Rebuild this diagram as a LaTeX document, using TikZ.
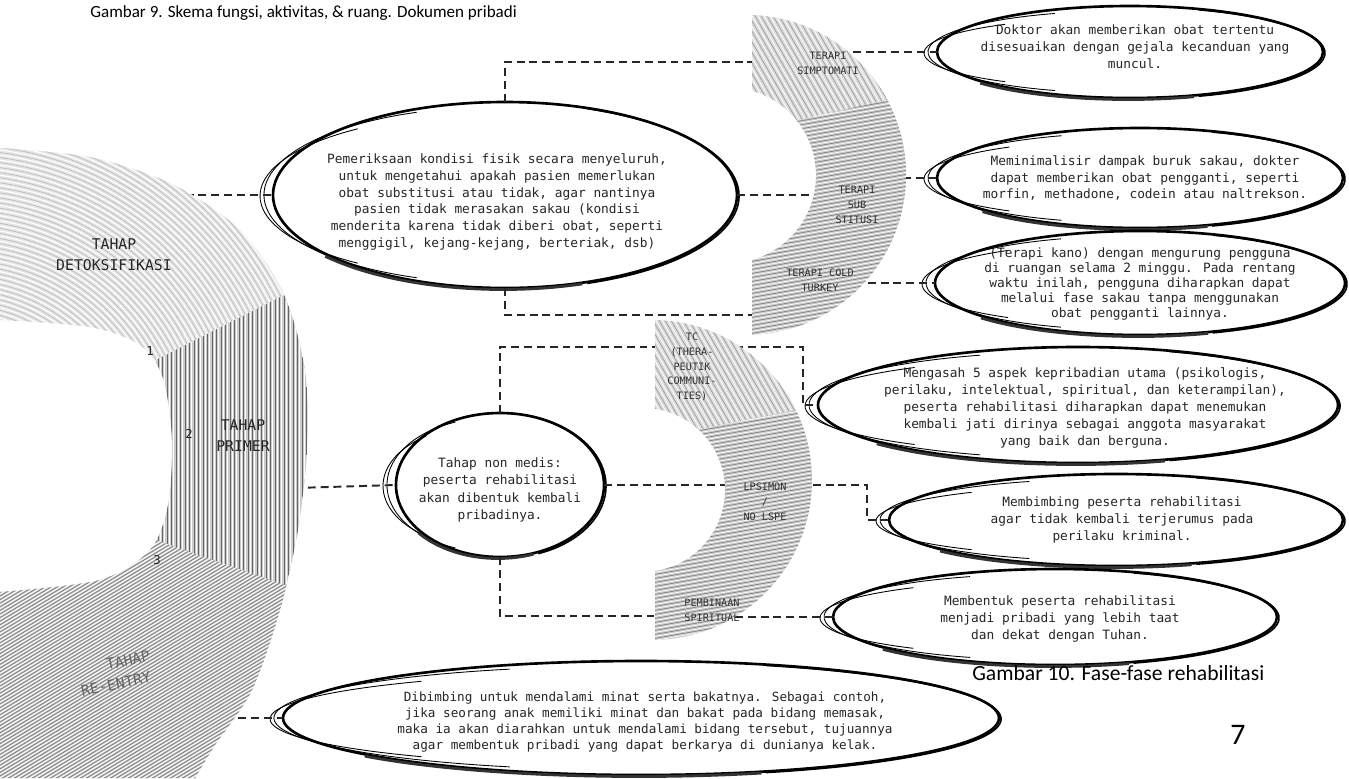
\documentclass[tikz,border=0pt]{standalone}
\usepackage{fontspec}
\setmainfont{Carlito}
\newfontfamily\skf{DejaVu Sans Mono}
\usetikzlibrary{calc,shapes.geometric}

\tikzset{
  conn/.style={draw=black!85, line width=1.1pt, dash pattern=on 4.5pt off 2.8pt},
  ebox/.style={ellipse, draw=none, inner sep=0pt},
  etext/.style={font=\skf\fontsize{7.3}{9.6}\selectfont, align=center, text=black!85},
  blabel/.style={font=\skf\fontsize{5.8}{8.4}\selectfont, align=center, text=black!80},
  rlabel/.style={font=\skf\fontsize{8.4}{12}\selectfont, align=center, text=black!85},
  capt/.style={font=\fontsize{9.7}{11}\selectfont, anchor=west, inner sep=0pt},
}

\newcommand\ellnode[5]{%
  \node[ebox, minimum width={0.04cm*#4}, minimum height={0.04cm*#5}] (#1) at (#2,#3) {};
  \draw[line width=1.5pt] (#2,#3) ellipse [x radius=#4, y radius=#5];
  \draw[line width=0.9pt, shift={({#2+3},{#3+1})}] ({(#4-1)*cos(-70)},{#5*sin(-70)}) arc[start angle=-70, end angle=70, x radius={#4-1}, y radius=#5];
  \draw[line width=0.5pt, shift={({#2-9},{#3})}] ({#4*cos(110)},{(#5-5)*sin(110)}) arc[start angle=110, end angle=250, x radius=#4, y radius={#5-5}];
  \draw[line width=0.5pt, shift={({#2-16},{#3+1})}] ({(#4-3)*cos(125)},{(#5-11)*sin(125)}) arc[start angle=125, end angle=235, x radius={#4-3}, y radius={#5-11}];
  \draw[line width=1.6pt, black!80, shift={({#2-2},{#3+1.5})}] ({#4*cos(70)},{#5*sin(70)}) arc[start angle=70, end angle=140, x radius=#4, y radius=#5];
}

\newcommand\diaghatch{%
  \fill[gray!28] (600,0) rectangle (1000,700);
  \foreach \k in {-400,-394,...,1000} {%
    \draw[black!45, line width=0.3pt] (\k,0) -- ++(400,700);
    \draw[white, line width=0.45pt] ({\k+3},0) -- ++(400,700);}
}
\newcommand\horhatch{%
  \fill[gray!42] (600,0) rectangle (1000,700);
  \foreach \y in {0,4,...,800} {%
    \draw[black!55, line width=0.3pt] (600,\y) -- (1000,{\y-70});
    \draw[white, line width=0.4pt] (600,{\y+2}) -- (1000,{\y-68});}
}

\def\ringpath{plot[smooth] coordinates {(0,148) (90,157) (170,183) (238,228) (283,292) (305,370) (307,450) (298,530) (280,610) (252,690) (215,745) (195,778)} -- (0,778) -- (0,592) -- plot[smooth] coordinates {(0,592) (100,580) (150,550) (168,505) (172,440) (163,378) (140,345) (90,327) (0,320)} -- cycle}
\def\ubandpath{(752,15) arc[start angle=-87.85, end angle=87.85, radius=160] -- (752,260) arc[start angle=74.2, end angle=-74.2, radius=88] -- cycle}
\def\lbandpath{(655,320) arc[start angle=-88.9, end angle=88.9, radius=160] -- (655,571) arc[start angle=81.6, end angle=-81.6, radius=82] -- cycle}

\begin{document}
\begin{tikzpicture}[x=0.02cm,y=-0.02cm]
\useasboundingbox (0,0) rectangle (1349,778);
\fill[white] (0,0) rectangle (1349,778);

% ---------- ellipses ----------
\ellnode{E0}{505}{195}{232}{93}
\ellnode{E1}{1130}{52}{193}{46}
\ellnode{E2}{1140}{178}{203}{50}
\ellnode{E3}{1140}{283}{205}{52}
\ellnode{E4}{1078}{405}{260}{58}
\ellnode{E5}{1116}{520}{227}{46}
\ellnode{E6}{1055}{617}{222}{48}
\ellnode{E7}{641}{718}{358}{57}
\ellnode{E8}{500}{485}{104}{72}

% ---------- connectors ----------
\coordinate (r1) at (160,195);
\coordinate (r2) at (295,488);
\coordinate (r3) at (200,718);
\coordinate (bT) at (790,62);
\coordinate (bM) at (830,195);
\coordinate (bB) at (790,315);
\coordinate (s1) at (840,52);
\coordinate (s2) at (890,178);
\coordinate (s3) at (855,283);
\coordinate (lT) at (700,347);
\coordinate (lM) at (740,485);
\coordinate (lB) at (700,616);
\coordinate (t1) at (735,347);
\coordinate (t2) at (800,485);
\coordinate (t3) at (735,617);

\draw[conn] (r1) -- (E0.west);
\draw[conn] (E0.north) |- (bT);
\draw[conn] (E0.east) -- (bM);
\draw[conn] (E0.south) |- (bB);
\draw[conn] (s1) -- (E1.west);
\draw[conn] (s2) -- (E2.west);
\draw[conn] (s3) -- (E3.west);
\draw[conn] (r2) -- (E8.west);
\draw[conn] (E8.north) |- (lT);
\draw[conn] (E8.east) -- (lM);
\draw[conn] (E8.south) |- (lB);
\draw[conn] (t1) -| ($(E4.west)+(-15,0)$) -- (E4.west);
\draw[conn] (t2) -| ($(E5.west)+(-22,0)$) -- (E5.west);
\draw[conn] (t3) -- (E6.west);
\draw[conn] (r3) -- (E7.west);

% ---------- ring ----------
\begin{scope}
  \clip \ringpath;
  \begin{scope}
    \clip (-10,100) -- (420,100) -- (420,230) -- (300,287) -- (150,363) -- (-10,444) -- cycle;
    \fill[gray!20] (-10,100) rectangle (420,800);
    \foreach \r in {120,125,...,400} {%
      \draw[gray!55, line width=0.35pt] (-40,460) circle[radius=\r];
      \draw[white, line width=0.6pt] (-40,460) circle[radius={\r+2.5}];}
  \end{scope}
  \begin{scope}
    \clip (-10,444) -- (150,363) -- (300,287) -- (420,230) -- (420,632) -- (155,540) -- (-10,485) -- cycle;
    \fill[gray!40] (-10,100) rectangle (420,800);
    \foreach \x in {140,144.5,...,320} {%
      \draw[black!60, line width=0.35pt] (\x,200) -- (\x,700);
      \draw[white, line width=0.5pt] ({\x+2.2},200) -- ({\x+2.2},700);}
  \end{scope}
  \begin{scope}
    \clip (-10,485) -- (155,540) -- (420,632) -- (420,800) -- (-10,800) -- cycle;
    \fill[gray!42] (-10,400) rectangle (420,800);
    \foreach \k in {-700,-694,...,420} {%
      \draw[black!55, line width=0.35pt] (\k,800) -- ++(500,-300);
      \draw[white, line width=0.5pt] ({\k+3},800) -- ++(500,-300);}
  \end{scope}
\end{scope}
\node[rlabel] (rl1) at (114,255) {TAHAP\\DETOKSIFIKASI};
\node[rlabel] (rl2) at (243,436) {TAHAP\\PRIMER};
\node[rlabel, text=black!60, rotate=12] (rl3a) at (128,660) {TAHAP};
\node[rlabel, text=black!60, rotate=12] (rl3b) at (116,684) {RE-ENTRY};
\node[rlabel, font=\skf\fontsize{7}{8}\selectfont] (n1) at (150,351) {1};
\node[rlabel, font=\skf\fontsize{7}{8}\selectfont] (n2) at (189,434) {2};
\node[rlabel, font=\skf\fontsize{7}{8}\selectfont] (n3) at (157,560) {3};

% ---------- upper band ----------
\begin{scope}
  \clip \ubandpath;
  \begin{scope}
    \clip (740,-10) -- (1000,-10) -- (1000,75) -- (740,133) -- cycle;
    \diaghatch
  \end{scope}
  \begin{scope}
    \clip (740,133) -- (1000,75) -- (1000,199) -- (740,241) -- cycle;
    \horhatch
  \end{scope}
  \begin{scope}
    \clip (740,241) -- (1000,199) -- (1000,400) -- (740,400) -- cycle;
    \horhatch
  \end{scope}
\end{scope}
\node[blabel] (u1) at (828,63) {TERAPI\\SIMPTOMATI};
\node[blabel] (u2) at (857,205) {TERAPI\\SUB\\STITUSI};
\node[blabel] (u3) at (820,280) {TERAPI COLD\\TURKEY};

% ---------- lower band ----------
\begin{scope}
  \clip \lbandpath;
  \begin{scope}
    \clip (640,300) -- (900,300) -- (900,388.6) -- (640,442) -- cycle;
    \diaghatch
  \end{scope}
  \begin{scope}
    \clip (640,442) -- (900,388.6) -- (900,495) -- (640,564) -- cycle;
    \horhatch
  \end{scope}
  \begin{scope}
    \clip (640,564) -- (900,495) -- (900,700) -- (640,700) -- cycle;
    \horhatch
  \end{scope}
\end{scope}
\node[blabel] (v1) at (692,367) {TC\\(THERA-\\PEUTIK\\COMMUNI-\\TIES)};
\node[blabel] (v2) at (765,502) {LPSIMON\\/\\NO LSPE};
\node[blabel] (v3) at (712,610) {PEMBINAAN\\SPIRITUAL};

% ---------- texts ----------
\node[etext] (T0) at (497,202) {Pemeriksaan kondisi fisik secara menyeluruh,\\untuk mengetahui apakah pasien memerlukan\\obat substitusi atau tidak, agar nantinya\\pasien tidak merasakan sakau (kondisi\\menderita karena tidak diberi obat, seperti\\menggigil, kejang-kejang, berteriak, dsb)};
\node[etext] (T1) at (1135,47) {Doktor akan memberikan obat tertentu\\disesuaikan dengan gejala kecanduan yang\\muncul.};
\node[etext] (T2) at (1145,178) {Meminimalisir dampak buruk sakau, dokter\\dapat memberikan obat pengganti, seperti\\morfin, methadone, codein atau naltrekson.};
\node[etext, font=\skf\fontsize{7.3}{8.5}\selectfont] (T3) at (1140,284) {(Terapi kano) dengan mengurung pengguna\\di ruangan selama 2 minggu. Pada rentang\\waktu inilah, pengguna diharapkan dapat\\melalui fase sakau tanpa menggunakan\\obat pengganti lainnya.};
\node[etext] (T4) at (1085,408) {Mengasah 5 aspek kepribadian utama (psikologis,\\perilaku, intelektual, spiritual, dan keterampilan),\\peserta rehabilitasi diharapkan dapat menemukan\\kembali jati dirinya sebagai anggota masyarakat\\yang baik dan berguna.};
\node[etext] (T5) at (1122,520) {Membimbing peserta rehabilitasi\\agar tidak kembali terjerumus pada\\perilaku kriminal.};
\node[etext] (T6) at (1060,619) {Membentuk peserta rehabilitasi\\menjadi pribadi yang lebih taat\\dan dekat dengan Tuhan.};
\node[etext, font=\skf\fontsize{7.2}{9.1}\selectfont] (T7) at (645,722) {Dibimbing untuk mendalami minat serta bakatnya. Sebagai contoh,\\jika seorang anak memiliki minat dan bakat pada bidang memasak,\\maka ia akan diarahkan untuk mendalami bidang tersebut, tujuannya\\agar membentuk pribadi yang dapat berkarya di dunianya kelak.};
\node[etext, font=\skf\fontsize{7.3}{9.8}\selectfont] (T8) at (500,490) {Tahap non medis:\\peserta rehabilitasi\\akan dibentuk kembali\\pribadinya.};

% ---------- captions ----------
\node[capt] (c1) at (90,13) {Gambar 9. Skema fungsi, aktivitas, \& ruang. Dokumen pribadi};
\node[capt, font=\fontsize{12.3}{14}\selectfont] (c2) at (972,673) {Gambar 10. Fase-fase rehabilitasi};
\node[font=\fontsize{17}{20}\selectfont, inner sep=0pt] (pg) at (1238,735) {7};
\end{tikzpicture}
\end{document}
